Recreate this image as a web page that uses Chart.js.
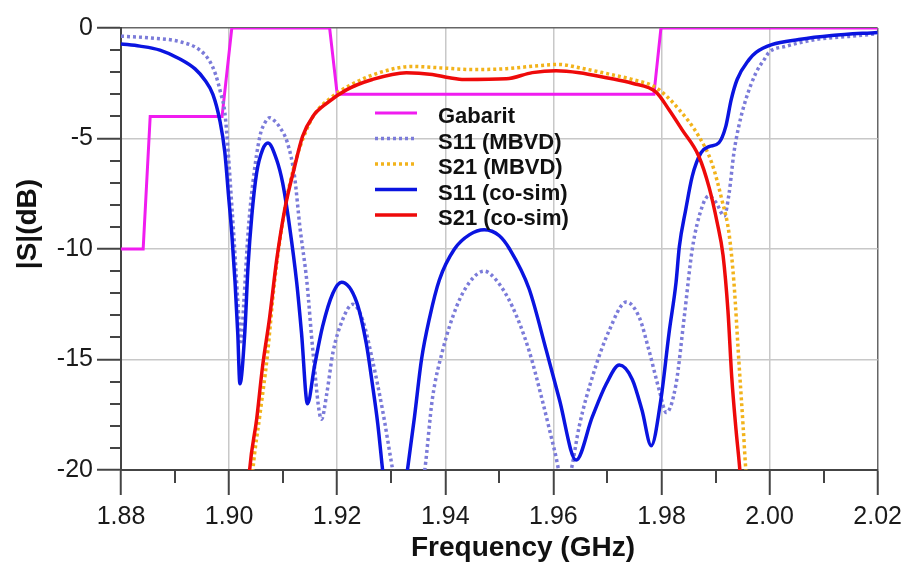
<!DOCTYPE html>
<html>
<head>
<meta charset="utf-8">
<script src="https://cdn.jsdelivr.net/npm/chart.js@4.4.0/dist/chart.umd.min.js"></script>
<style>
  html, body { margin: 0; padding: 0; background: #fff; }
  #wrap { width: 909px; height: 563px; }
</style>
</head>
<body>
<div id="wrap"><canvas id="chart" width="909" height="563"></canvas></div>
<script>
// frequency in GHz, magnitude in dB
const xTicks = [1.88, 1.90, 1.92, 1.94, 1.96, 1.98, 2.00, 2.02];
const xMinorTicks = [1.89, 1.91, 1.93, 1.95, 1.97, 1.99, 2.01];
const yTicks = [-20, -15, -10, -5, 0];
const yMinorTicks = [-19, -18, -17, -16, -14, -13, -12, -11, -9, -8, -7, -6, -4, -3, -2, -1];

const gabaritFreq = [1.8800, 1.8841, 1.8854, 1.8987, 1.9005, 1.9186, 1.9200, 1.9786, 1.9799, 2.0200];
const gabaritDb   = [-10, -10, -4, -4, 0, 0, -3, -3, 0, 0];

const s11MbvdFreq = [1.8800, 1.8854, 1.8909, 1.8946, 1.8964, 1.8975, 1.8985, 1.8992, 1.8998, 1.9003,
  1.9009, 1.9016, 1.9022, 1.9027, 1.9035, 1.9044, 1.9057, 1.9066, 1.9075, 1.9084,
  1.9094, 1.9108, 1.9121, 1.9131, 1.9144, 1.9155, 1.9171, 1.9181, 1.9192, 1.9210,
  1.9229, 1.9247, 1.9265, 1.9284, 1.9302, 1.9332, 1.9362, 1.9376, 1.9395, 1.9421,
  1.9445, 1.9472, 1.9494, 1.9524, 1.9555, 1.9579, 1.9602, 1.9622, 1.9633, 1.9648,
  1.9672, 1.9703, 1.9735, 1.9759, 1.9777, 1.9796, 1.9809, 1.9827, 1.9842, 1.9857,
  1.9875, 1.9888, 1.9901, 1.9916, 1.9925, 1.9934, 1.9943, 1.9956, 1.9975, 1.9990,
  1.9999, 2.0030, 2.0086, 2.0147, 2.0200];
const s11MbvdDb = [-0.37, -0.45, -0.62, -1.0, -1.5, -2.1, -3.0, -3.8, -5.5, -7.3,
  -9.5, -12.3, -14.2, -12.5, -9.3, -7.0, -4.9, -4.3, -4.06, -4.2,
  -4.5, -5.2, -6.7, -9.0, -11.5, -14.6, -17.7, -16.5, -14.7, -13.2,
  -12.5, -13.2, -15.0, -17.3, -19.9, -24, -20, -16.8, -14.6, -12.6,
  -11.5, -11.0, -11.4, -12.6, -14.6, -16.8, -19.1, -21, -20, -18.0,
  -15.8, -13.7, -12.4, -13.1, -14.6, -16.4, -17.4, -16.1, -13.1, -10.0,
  -8.1, -7.6, -7.9, -8.5, -7.5, -5.65, -4.45, -3.24, -2.02, -1.43,
  -1.1, -0.83, -0.52, -0.38, -0.26];

const s21MbvdFreq = [1.9038, 1.9044, 1.9057, 1.9070, 1.9084, 1.9103, 1.9121, 1.9140, 1.9158, 1.9186,
  1.9223, 1.9278, 1.9339, 1.9389, 1.9450, 1.9513, 1.9574, 1.9611, 1.9648, 1.9698,
  1.9746, 1.9790, 1.9833, 1.9869, 1.9893, 1.9912, 1.9925, 1.9934, 1.9943, 1.9951,
  1.9956, 1.9962];
const s21MbvdDb = [-22, -20, -17.5, -15, -11.5, -8.2, -6.2, -4.8, -3.9, -3.2,
  -2.6, -2.02, -1.74, -1.8, -1.88, -1.84, -1.7, -1.65, -1.8, -2.06,
  -2.33, -2.7, -3.7, -4.9, -6.1, -7.8, -9.3, -11.5, -15.0, -18,
  -20, -22];

const s11CosimFreq = [1.8800, 1.8835, 1.8872, 1.8909, 1.8937, 1.8955, 1.8970, 1.8983, 1.8992, 1.8999,
  1.9005, 1.9011, 1.9016, 1.9020, 1.9029, 1.9035, 1.9042, 1.9051, 1.9062, 1.9072,
  1.9088, 1.9099, 1.9112, 1.9125, 1.9134, 1.9145, 1.9158, 1.9173, 1.9192, 1.9208,
  1.9236, 1.9254, 1.9265, 1.9275, 1.9284, 1.9306, 1.9330, 1.9343, 1.9356, 1.9371,
  1.9389, 1.9417, 1.9445, 1.9472, 1.9500, 1.9519, 1.9555, 1.9587, 1.9611, 1.9642,
  1.9672, 1.9698, 1.9722, 1.9746, 1.9764, 1.9781, 1.9799, 1.9814, 1.9827, 1.9833,
  1.9845, 1.9857, 1.9873, 1.9888, 1.9906, 1.9919, 1.9929, 1.9940, 1.9962, 1.9975,
  2.0004, 2.0054, 2.0115, 2.0200];
const s11CosimDb = [-0.72, -0.82, -1.0, -1.4, -1.85, -2.35, -3.0, -4.2, -5.6, -7.6,
  -9.3, -11.5, -13.8, -16.1, -13.8, -10.8, -8.5, -6.55, -5.5, -5.2,
  -5.96, -7.0, -9.0, -11.5, -13.8, -17.0, -15.3, -13.5, -12.0, -11.5,
  -12.4, -14.3, -16.1, -17.9, -20, -25, -20, -17.6, -15.0, -13.1,
  -11.4, -10.0, -9.35, -9.13, -9.4, -10.0, -11.8, -14.6, -16.8, -19.55,
  -17.6, -16.1, -15.25, -15.9, -17.3, -18.9, -16.8, -13.8, -11.5, -9.9,
  -8.2, -6.7, -5.65, -5.37, -5.2, -4.45, -3.24, -2.33, -1.43, -1.1,
  -0.75, -0.52, -0.34, -0.2];

const s21CosimFreq = [1.9033, 1.9038, 1.9051, 1.9062, 1.9075, 1.9088, 1.9103, 1.9121, 1.9136, 1.9155,
  1.9181, 1.9217, 1.9265, 1.9328, 1.9376, 1.9408, 1.9435, 1.9513, 1.9561, 1.9605,
  1.9648, 1.9698, 1.9746, 1.9790, 1.9814, 1.9838, 1.9869, 1.9888, 1.9903, 1.9914,
  1.9923, 1.9930, 1.9938, 1.9945, 1.9952];
const s21CosimDb = [-22, -20, -17.7, -15.3, -13.1, -10.5, -8.2, -6.3, -4.9, -4.0,
  -3.4, -2.8, -2.33, -2.02, -2.1, -2.25, -2.33, -2.3, -2.02, -1.93,
  -2.02, -2.25, -2.5, -2.9, -3.7, -4.6, -5.8, -7.2, -8.8, -10.3,
  -12.8, -15.8, -18.2, -20, -22.5];

const toPoints = (freq, db) => freq.map((f, i) => ({x: f, y: db[i]}));

const FONT = "'Liberation Sans', Arial, sans-serif";
Chart.defaults.font.family = FONT;

// minor ticks, axis titles and the legend inside the plot
const extras = {
    id: 'extras',
    afterDraw(chart) {
        const {ctx, chartArea, scales} = chart;
        const x = scales.x, y = scales.y;
        ctx.save();
        ctx.strokeStyle = '#444';
        ctx.lineWidth = 2;
        ctx.beginPath();
        xMinorTicks.forEach(v => {
            const px = Math.round(x.getPixelForValue(v));
            ctx.moveTo(px, chartArea.bottom);
            ctx.lineTo(px, chartArea.bottom + 13);
        });
        yMinorTicks.forEach(v => {
            const py = Math.round(y.getPixelForValue(v));
            ctx.moveTo(chartArea.left - 11, py);
            ctx.lineTo(chartArea.left, py);
        });
        ctx.stroke();

        // axis titles
        ctx.fillStyle = '#111';
        ctx.font = 'bold 28px ' + FONT;
        ctx.textAlign = 'center';
        ctx.textBaseline = 'alphabetic';
        ctx.fillText('Frequency (GHz)', 523, 556);
        ctx.save();
        ctx.translate(36, 224);
        ctx.rotate(-Math.PI / 2);
        ctx.fillText('|S|(dB)', 0, 0);
        ctx.restore();

        // legend
        ctx.textAlign = 'left';
        ctx.font = 'bold 22px ' + FONT;
        chart.data.datasets.forEach((ds, i) => {
            const ly = 113 + i * 25.5;
            ctx.save();
            ctx.strokeStyle = ds.borderColor;
            ctx.lineWidth = ds.borderWidth;
            ctx.setLineDash(ds.borderDash || []);
            ctx.beginPath();
            ctx.moveTo(375, ly);
            ctx.lineTo(417, ly);
            ctx.stroke();
            ctx.restore();
            ctx.fillStyle = '#111';
            ctx.fillText(ds.label, 438, ly + 10);
        });
        ctx.restore();
    }
};

const gridColor = (edge) => (c) => (c.tick && Math.abs(c.tick.value - edge) < 1e-9) ? '#666' : '#c8c8c8';

new Chart(document.getElementById('chart'), {
    type: 'line',
    data: {
        datasets: [
            {label: 'Gabarit', data: toPoints(gabaritFreq, gabaritDb), borderColor: '#f01cf0', borderWidth: 3, tension: 0, order: 5},
            {label: 'S11 (MBVD)', data: toPoints(s11MbvdFreq, s11MbvdDb), borderColor: '#7b7bd9', borderWidth: 3.5, borderDash: [3, 3], cubicInterpolationMode: 'monotone', order: 4},
            {label: 'S21 (MBVD)', data: toPoints(s21MbvdFreq, s21MbvdDb), borderColor: '#f2b31b', borderWidth: 3.5, borderDash: [3, 3], cubicInterpolationMode: 'monotone', order: 3},
            {label: 'S11 (co-sim)', data: toPoints(s11CosimFreq, s11CosimDb), borderColor: '#0a14e0', borderWidth: 3.5, cubicInterpolationMode: 'monotone', order: 2},
            {label: 'S21 (co-sim)', data: toPoints(s21CosimFreq, s21CosimDb), borderColor: '#ee0a0a', borderWidth: 3.5, cubicInterpolationMode: 'monotone', order: 1}
        ]
    },
    options: {
        responsive: false,
        animation: false,
        layout: {padding: {top: 28, right: 30, left: 0, bottom: 0}},
        elements: {point: {radius: 0}},
        plugins: {legend: {display: false}, tooltip: {enabled: false}},
        scales: {
            x: {
                type: 'linear', min: 1.88, max: 2.02,
                afterBuildTicks: s => { s.ticks = xTicks.map(v => ({value: v})); },
                afterFit: s => { s.height = 93; },
                ticks: {callback: v => v.toFixed(2), font: {size: 25}, color: '#1a1a1a', padding: 7, maxRotation: 0, autoSkip: false},
                grid: {color: gridColor(2.02), lineWidth: 1.5, tickLength: 25, tickColor: '#444', tickWidth: 2},
                border: {color: '#444', width: 2}
            },
            y: {
                type: 'linear', min: -20, max: 0,
                afterBuildTicks: s => { s.ticks = yTicks.map(v => ({value: v})); },
                afterFit: s => { s.width = 121; },
                ticks: {callback: v => String(v), font: {size: 25}, color: '#1a1a1a', padding: 4, autoSkip: false},
                grid: {color: gridColor(0), lineWidth: 1.5, tickLength: 24, tickColor: '#444', tickWidth: 2},
                border: {color: '#444', width: 2}
            }
        }
    },
    plugins: [extras]
});
</script>
</body>
</html>
